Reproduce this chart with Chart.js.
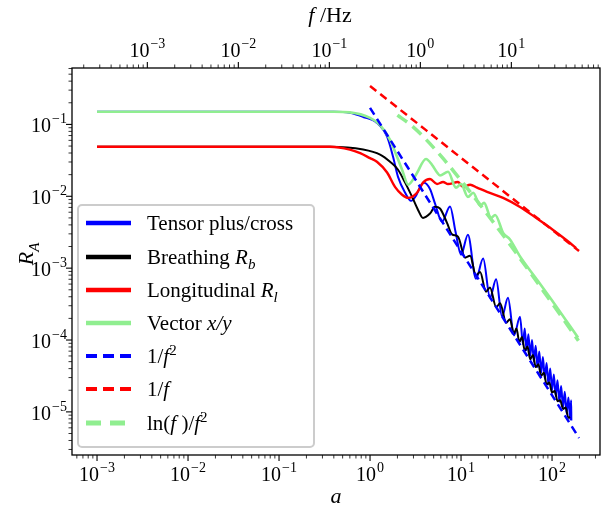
<!DOCTYPE html>
<html>
<head>
<meta charset="utf-8">
<script src="https://cdn.jsdelivr.net/npm/chart.js@4.4.1/dist/chart.umd.min.js"></script>
<style>
  html, body { margin: 0; padding: 0; background: #fff; }
  canvas { display: block; }
</style>
</head>
<body>
<canvas id="responseChart" width="603" height="508"></canvas>
<script>
// response functions (a = f / f*)
const tensorA = [0.001, 0.4, 0.6, 0.84, 1.19, 1.54, 1.79, 2.03, 2.43, 2.82, 3.2, 3.55, 3.92, 4.57, 5.18, 6.18, 7.57, 8.7, 10.0, 11.9, 14.6, 17.5, 20.8, 24.3, 28.2, 32.8, 38.2, 44.5,
  47.9, 50.1, 52.5, 55.0, 57.5, 60.3, 63.1, 66.1, 69.2, 72.4, 75.9, 79.4, 83.2, 87.1, 91.2, 95.5, 100, 104.7, 109.6, 114.8, 120.2, 125.9, 131.8, 138.0, 144.5, 151.4, 158.5, 162, 163];
const tensorR = [0.15, 0.15, 0.145, 0.127, 0.105, 0.0674, 0.0355, 0.0186, 0.0112, 0.00865, 0.0102, 0.0135, 0.0154, 0.0125, 0.0079, 0.00443, 0.0072, 0.0032, 0.00154, 0.00292, 7.1e-4, 1.36e-3, 3.9e-4, 7.0e-4, 2.12e-4, 3.86e-4, 1.16e-4, 2.1e-4,
  8.7e-5, 1.45e-4, 7.2e-5, 1.2e-4, 6.0e-5, 1.0e-4, 5.0e-5, 8.3e-5, 4.2e-5, 6.9e-5, 3.5e-5, 5.8e-5, 2.9e-5, 4.8e-5, 2.4e-5, 4.0e-5, 2.0e-5, 3.3e-5, 1.66e-5, 2.75e-5, 1.38e-5, 2.29e-5, 1.15e-5, 1.91e-5, 9.5e-6, 1.58e-5, 7.9e-6, 1.45e-5, 7.6e-6];

const breathingA = [0.001, 0.363, 0.84, 1.29, 1.66, 2.03, 2.43, 2.90, 3.37, 3.82, 4.56, 5.18, 5.87, 7.01, 7.96, 9.27, 11.07, 12.56, 14.6, 16.2, 18.8, 20.8, 24.3, 26.9, 31.3, 34.5,
  38.0, 40.7, 43.7, 46.8, 50.1, 53.7, 57.5, 61.7, 66.1, 70.8, 75.9, 81.3, 87.1, 93.3, 100, 107, 115, 123, 132, 141, 151, 158];
const breathingR = [0.049, 0.049, 0.0447, 0.038, 0.0302, 0.0234, 0.0155, 0.0098, 0.00646, 0.0050, 0.00575, 0.00715, 0.00676, 0.00427, 0.00295, 0.00274, 0.0014, 0.00149, 7.9e-4, 8.85e-4, 4.7e-4, 5.4e-4, 2.87e-4, 3.24e-4, 1.74e-4, 1.95e-4,
  1.23e-4, 1.45e-4, 9.3e-5, 1.1e-4, 7.1e-5, 8.1e-5, 5.4e-5, 6.2e-5, 4.2e-5, 4.6e-5, 3.16e-5, 3.5e-5, 2.4e-5, 2.57e-5, 1.86e-5, 1.95e-5, 1.41e-5, 1.45e-5, 1.1e-5, 1.15e-5, 8.3e-6, 8.5e-6];

const longitudinalA = [0.001, 0.363, 0.6, 0.78, 1.0, 1.19, 1.54, 1.88, 2.25, 2.62, 3.28, 3.82, 4.56, 5.45, 6.34, 7.19, 9.27, 10.5, 12.6, 15.0, 19.3, 29.0, 44.5, 68.4, 102.6, 158, 184];
const longitudinalR = [0.049, 0.049, 0.0447, 0.0398, 0.0339, 0.0302, 0.0214, 0.0135, 0.0105, 0.0095, 0.0112, 0.0155, 0.0174, 0.0148, 0.0158, 0.0148, 0.0158, 0.0135, 0.0145, 0.0132, 0.0115, 0.0095, 0.0071, 0.0049, 0.0034, 0.00224, 0.0019];

const vectorA = [0.001, 0.4, 0.6, 1.0, 1.29, 1.66, 1.98, 2.25, 2.62, 3.2, 4.12, 4.79, 5.45, 5.87, 7.2, 8.8, 10.0, 11.9, 13.6, 16.2, 17.9, 21.4, 23.7, 29.0, 34.5, 44.5, 68.4, 108, 193];
const vectorR = [0.15, 0.15, 0.147, 0.123, 0.098, 0.061, 0.0355, 0.0234, 0.0145, 0.020, 0.033, 0.0275, 0.0214, 0.0195, 0.0219, 0.0132, 0.0148, 0.0098, 0.0112, 0.0074, 0.0081, 0.0050, 0.0055, 0.0031, 0.0025, 0.00145, 0.00069, 0.00031, 0.000108];

// reference slopes
const invF2A = [1, 198];
const invF2R = [0.17, 4.34e-6];
const invFA = [1, 198];
const invFR = [0.343, 0.00173];
const lnF2A = [2.0, 2.82, 3.98, 6.31, 10, 20, 39.8, 79.4, 195];
const lnF2R = [0.135, 0.0977, 0.0646, 0.0339, 0.0166, 0.00537, 0.00166, 0.00049, 0.000098];

// axis ranges
const aMin = Math.pow(10, -3.275);
const aMax = Math.pow(10, 2.527);
const rMin = Math.pow(10, -5.6);
const rMax = Math.pow(10, -0.215);
const fStar = 0.28; // f = a * f*

const serif = '"Liberation Serif", "DejaVu Serif", serif';

function pts(xs, ys) {
    return xs.map((x, i) => ({ x: x, y: ys[i] }));
}

// legend rows: colour, dash, width, label pieces
const legendRows = [
    { color: '#0000ff', dash: [], width: 4.5, parts: [{ t: 'Tensor plus/cross' }] },
    { color: '#000000', dash: [], width: 4.5, parts: [{ t: 'Breathing ' }, { t: 'R', i: true }, { t: 'b', i: true, sub: true }] },
    { color: '#ff0000', dash: [], width: 4.5, parts: [{ t: 'Longitudinal ' }, { t: 'R', i: true }, { t: 'l', i: true, sub: true }] },
    { color: '#90ee90', dash: [], width: 4.5, parts: [{ t: 'Vector ' }, { t: 'x/y', i: true }] },
    { color: '#0000ff', dash: [11, 6], width: 4, parts: [{ t: '1/' }, { t: 'f', i: true }, { t: '2', sup: true }] },
    { color: '#ff0000', dash: [11, 6], width: 4, parts: [{ t: '1/' }, { t: 'f', i: true }] },
    { color: '#90ee90', dash: [15, 9], width: 5, parts: [{ t: 'ln(' }, { t: 'f', i: true }, { t: ' )/' }, { t: 'f', i: true }, { t: '2', sup: true }] }
];

function drawRich(ctx, parts, x, y, size) {
    let cx = x;
    parts.forEach(p => {
        const small = p.sub || p.sup;
        const fs = small ? Math.round(size * 0.7) : size;
        ctx.font = (p.i ? 'italic ' : '') + fs + 'px ' + serif;
        let dy = 0;
        if (p.sub) dy = size * 0.25;
        if (p.sup) dy = -size * 0.4;
        ctx.fillText(p.t, cx, y + dy);
        cx += ctx.measureText(p.t).width;
    });
    return cx - x;
}

function richWidth(ctx, parts, size) {
    let w = 0;
    parts.forEach(p => {
        const fs = (p.sub || p.sup) ? Math.round(size * 0.7) : size;
        ctx.font = (p.i ? 'italic ' : '') + fs + 'px ' + serif;
        w += ctx.measureText(p.t).width;
    });
    return w;
}

function drawPow(ctx, x, y, exp, align) {
    const base = '10';
    const ex = (exp < 0 ? '\u2212' : '') + Math.abs(exp);
    ctx.font = '20px ' + serif;
    const wb = ctx.measureText(base).width;
    ctx.font = '14px ' + serif;
    const we = ctx.measureText(ex).width;
    const total = wb + 1 + we;
    const x0 = align === 'center' ? x - total / 2 : x - total;
    ctx.textAlign = 'left';
    ctx.font = '20px ' + serif;
    ctx.fillText(base, x0, y);
    ctx.font = '14px ' + serif;
    ctx.fillText(ex, x0 + wb + 1, y - 9);
}

function drawLogTicks(ctx, scale, side, ca) {
    const lo = Math.floor(Math.log10(scale.min)) - 1;
    const hi = Math.ceil(Math.log10(scale.max)) + 1;
    for (let e = lo; e <= hi; e++) {
        for (let m = 1; m <= 9; m++) {
            const v = m * Math.pow(10, e);
            if (v < scale.min || v > scale.max) continue;
            const p = scale.getPixelForValue(v);
            const len = m === 1 ? 6 : 3.5;
            ctx.lineWidth = m === 1 ? 1.1 : 0.8;
            ctx.beginPath();
            if (side === 'bottom') { ctx.moveTo(p, ca.bottom); ctx.lineTo(p, ca.bottom + len); }
            if (side === 'top') { ctx.moveTo(p, ca.top); ctx.lineTo(p, ca.top - len); }
            if (side === 'left') { ctx.moveTo(ca.left, p); ctx.lineTo(ca.left - len, p); }
            ctx.stroke();
            if (m === 1) {
                if (side === 'bottom') drawPow(ctx, p, ca.bottom + 26, e, 'center');
                if (side === 'top') drawPow(ctx, p, ca.top - 11, e, 'center');
                if (side === 'left') drawPow(ctx, ca.left - 5, p + 8, e, 'right');
            }
        }
    }
}

const framePlugin = {
    id: 'framePlugin',
    afterDraw(chart) {
        const { ctx, chartArea: ca, scales } = chart;
        ctx.save();
        ctx.strokeStyle = '#000';
        ctx.fillStyle = '#000';
        ctx.textBaseline = 'alphabetic';
        ctx.lineWidth = 1.3;
        ctx.strokeRect(ca.left, ca.top, ca.right - ca.left, ca.bottom - ca.top);

        drawLogTicks(ctx, scales.x, 'bottom', ca);
        drawLogTicks(ctx, scales.x2, 'top', ca);
        drawLogTicks(ctx, scales.y, 'left', ca);

        // axis titles
        const midX = (ca.left + ca.right) / 2;
        ctx.textAlign = 'left';
        const aParts = [{ t: 'a', i: true }];
        drawRich(ctx, aParts, midX - richWidth(ctx, aParts, 22) / 2, 503, 22);
        const fParts = [{ t: 'f', i: true }, { t: ' /Hz' }];
        drawRich(ctx, fParts, midX - 6 - richWidth(ctx, fParts, 22) / 2, 22, 22);
        ctx.save();
        ctx.translate(33, 254);
        ctx.rotate(-Math.PI / 2);
        const rParts = [{ t: 'R', i: true }, { t: 'A', i: true, sub: true }];
        drawRich(ctx, rParts, -richWidth(ctx, rParts, 22) / 2, 0, 22);
        ctx.restore();

        // legend box
        const lx = 78, ly = 205, lw = 236, lh = 242, r = 4;
        ctx.beginPath();
        ctx.moveTo(lx + r, ly);
        ctx.arcTo(lx + lw, ly, lx + lw, ly + lh, r);
        ctx.arcTo(lx + lw, ly + lh, lx, ly + lh, r);
        ctx.arcTo(lx, ly + lh, lx, ly, r);
        ctx.arcTo(lx, ly, lx + lw, ly, r);
        ctx.closePath();
        ctx.fillStyle = 'rgba(255,255,255,0.9)';
        ctx.fill();
        ctx.strokeStyle = '#cccccc';
        ctx.lineWidth = 2;
        ctx.stroke();

        const rowY = [223, 257, 290, 323, 356, 389, 423];
        legendRows.forEach((row, k) => {
            const y = rowY[k];
            ctx.strokeStyle = row.color;
            ctx.lineWidth = row.width;
            ctx.setLineDash(row.dash);
            ctx.lineCap = 'butt';
            ctx.beginPath();
            ctx.moveTo(86, y);
            ctx.lineTo(131, y);
            ctx.stroke();
            ctx.setLineDash([]);
            ctx.fillStyle = '#000';
            drawRich(ctx, row.parts, 147, y + 7, 21);
        });
        ctx.restore();
    }
};

const chart = new Chart(document.getElementById('responseChart').getContext('2d'), {
    type: 'line',
    data: {
        datasets: [
            { label: 'Tensor plus/cross', data: pts(tensorA, tensorR), borderColor: '#0000ff', borderWidth: 2, order: 7 },
            { label: 'Breathing', data: pts(breathingA, breathingR), borderColor: '#000000', borderWidth: 2, order: 6 },
            { label: 'Longitudinal', data: pts(longitudinalA, longitudinalR), borderColor: '#ff0000', borderWidth: 2.4, order: 5 },
            { label: 'Vector x/y', data: pts(vectorA, vectorR), borderColor: '#90ee90', borderWidth: 2.6, order: 4 },
            { label: '1/f^2', data: pts(invF2A, invF2R), borderColor: '#0000ff', borderWidth: 2.5, borderDash: [8, 5], order: 3 },
            { label: '1/f', data: pts(invFA, invFR), borderColor: '#ff0000', borderWidth: 2.5, borderDash: [8, 5], order: 2 },
            { label: 'ln(f)/f^2', data: pts(lnF2A, lnF2R), borderColor: '#90ee90', borderWidth: 3.5, borderDash: [12, 7], order: 1 }
        ]
    },
    options: {
        animation: false,
        responsive: false,
        devicePixelRatio: 1,
        layout: { padding: { left: 0, right: 3, top: 0, bottom: 0 } },
        elements: {
            point: { radius: 0 },
            line: { cubicInterpolationMode: 'monotone', fill: false, borderJoinStyle: 'round' }
        },
        plugins: { legend: { display: false }, tooltip: { enabled: false } },
        scales: {
            x: {
                type: 'logarithmic', position: 'bottom', min: aMin, max: aMax,
                grid: { display: false }, border: { display: false }, ticks: { display: false },
                afterFit: s => { s.height = 53; }
            },
            x2: {
                type: 'logarithmic', position: 'top', min: aMin * fStar, max: aMax * fStar,
                grid: { display: false }, border: { display: false }, ticks: { display: false },
                afterFit: s => { s.height = 68; }
            },
            y: {
                type: 'logarithmic', position: 'left', min: rMin, max: rMax,
                grid: { display: false }, border: { display: false }, ticks: { display: false },
                afterFit: s => { s.width = 72; }
            }
        }
    },
    plugins: [framePlugin]
});
</script>
</body>
</html>
